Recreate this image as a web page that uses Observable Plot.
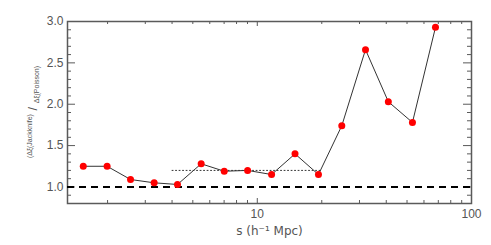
<!DOCTYPE html>
<html>
<head>
<meta charset="utf-8">
<script src="https://cdn.jsdelivr.net/npm/d3@7"></script>
<script src="https://cdn.jsdelivr.net/npm/@observablehq/plot@0.6"></script>
<style>
  html, body { margin: 0; padding: 0; background: #fff; }
  svg { display: block; }
</style>
</head>
<body>
<script>
// Data
const separation = [1.54, 1.99, 2.56, 3.30, 4.24, 5.47, 7.01, 9.01, 11.66, 15.0, 19.3, 24.8, 32.0, 40.9, 53.0, 67.9];
const ratio      = [1.25, 1.25, 1.09, 1.05, 1.03, 1.28, 1.19, 1.20, 1.15, 1.40, 1.15, 1.74, 2.66, 2.03, 1.78, 2.93];
const meanRange  = [4.0, 19.6];
const meanLevel  = 1.2;
const unityLevel = 1.0;
const xMajorTicks = [10, 100];
const xMinorTicks = [2, 3, 4, 5, 6, 7, 8, 9, 20, 30, 40, 50, 60, 70, 80, 90];
const yMajorTicks = [1.0, 1.5, 2.0, 2.5, 3.0];
const yMinorTicks = [0.8, 0.9, 1.1, 1.2, 1.3, 1.4, 1.6, 1.7, 1.8, 1.9, 2.1, 2.2, 2.3, 2.4, 2.6, 2.7, 2.8, 2.9];
const xLabel = "s (h⁻¹ Mpc)";

const points = separation.map((s, i) => ({s, r: ratio[i]}));

const W = 491, H = 245, ML = 67, MR = 20, MT = 21, MB = 42;
const FW = W - ML - MR, FH = H - MT - MB;
const axisColor = "#5a5a5a";

const svg = Plot.plot({
  width: W, height: H,
  marginLeft: ML, marginRight: MR, marginTop: MT, marginBottom: MB,
  x: {type: "log", domain: [1.3, 100]},
  y: {domain: [0.8, 3.0]},
  style: {fontFamily: "Liberation Sans, Arial, sans-serif", fontSize: "12px", color: "#555", background: "#fff"},
  marks: [
    // inward ticks: bottom / top
    Plot.ruleX(xMinorTicks, {x: d => d, stroke: axisColor, insetTop: FH - 3}),
    Plot.ruleX(xMajorTicks, {x: d => d, stroke: axisColor, insetTop: FH - 5}),
    Plot.ruleX(xMinorTicks, {x: d => d, stroke: axisColor, insetBottom: FH - 3}),
    Plot.ruleX(xMajorTicks, {x: d => d, stroke: axisColor, insetBottom: FH - 5}),
    // inward ticks: left / right
    Plot.ruleY(yMinorTicks, {y: d => d, stroke: axisColor, insetRight: FW - 4}),
    Plot.ruleY(yMajorTicks, {y: d => d, stroke: axisColor, insetRight: FW - 8}),
    Plot.ruleY(yMinorTicks, {y: d => d, stroke: axisColor, insetLeft: FW - 4}),
    Plot.ruleY(yMajorTicks, {y: d => d, stroke: axisColor, insetLeft: FW - 8}),
    Plot.axisX({ticks: xMajorTicks, tickSize: 0, tickPadding: 6, tickFormat: d3.format("d"), label: null}),
    Plot.axisY({ticks: yMajorTicks, tickSize: 0, tickPadding: 4, tickFormat: d3.format(".1f"), label: null}),
    Plot.frame({stroke: axisColor, strokeWidth: 1.5}),
    // reference lines
    Plot.ruleY([unityLevel], {stroke: "#000", strokeWidth: 2, strokeDasharray: "7,5"}),
    Plot.lineY(meanRange, {x: d => d, y: () => meanLevel, stroke: "#333", strokeWidth: 1, strokeDasharray: "1,2.5"}),
    // data
    Plot.line(points, {x: "s", y: "r", stroke: "#333", strokeWidth: 1}),
    Plot.dot(points, {x: "s", y: "r", r: 3.5, fill: "#f00", stroke: null}),
    Plot.text([xLabel], {frameAnchor: "bottom", dy: 31, text: d => d, fontFamily: "DejaVu Sans, sans-serif", fontSize: 12, fill: "#555"})
  ]
});

// y-axis label (fraction style)
const lab = d3.select(svg).append("text")
  .attr("transform", "translate(32,112) rotate(-90)")
  .attr("text-anchor", "middle")
  .attr("fill", "#555")
  .attr("font-family", "Liberation Sans, Arial, sans-serif");
lab.append("tspan").attr("font-size", 7).attr("dy", -0.5).text("(Δξ(Jackknife)");
lab.append("tspan").attr("font-size", 13).attr("dy", 5).text(" / ");
lab.append("tspan").attr("font-size", 7).attr("dy", 2).text("Δξ(Poisson)");

document.body.appendChild(svg);
</script>
</body>
</html>
